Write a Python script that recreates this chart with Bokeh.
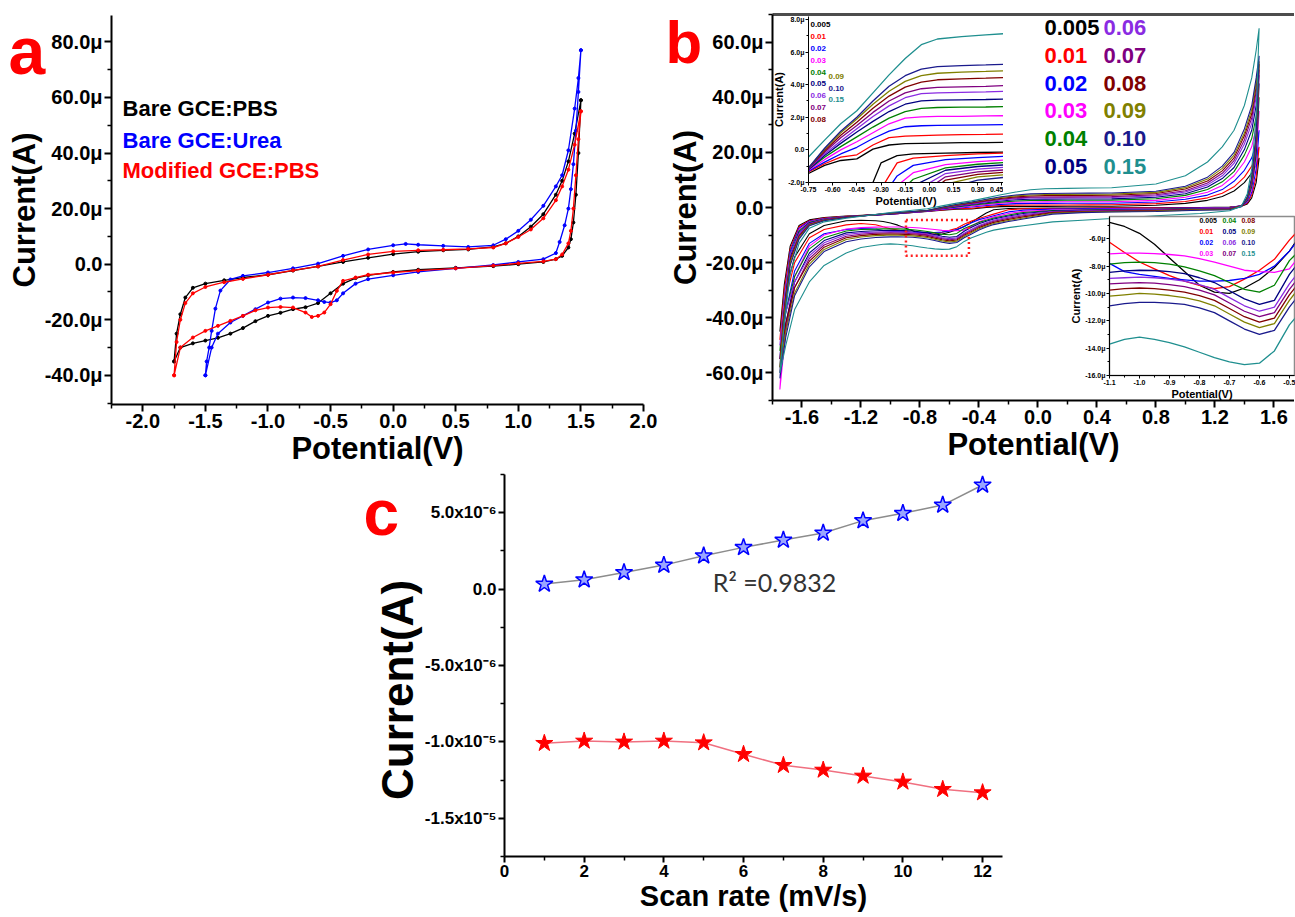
from bokeh.plotting import figure
from bokeh.models import GridBox, FixedTicker, Range1d, LinearAxis, Label, ColumnDataSource
from bokeh.embed import file_html
from bokeh.resources import INLINE
from bokeh.core.properties import value

FONT = "Liberation Sans"

# ---------------- panel a : CV of bare / modified GCE (current in uA) ----------------
a_names = ["Bare GCE:PBS", "Bare GCE:Urea", "Modified GCE:PBS"]
a_colors = ["#000000", "#0000ff", "#ff0000"]

a_pbs_fwd_x = [-1.75, -1.73, -1.70, -1.66, -1.60, -1.50, -1.35, -1.2, -1.0, -0.8, -0.6, -0.4, -0.2, 0.0,
               0.2, 0.4, 0.6, 0.8, 0.9, 1.0, 1.1, 1.2, 1.3, 1.35, 1.4, 1.45, 1.5]
a_pbs_fwd_y = [-35, -25, -18, -12, -8.5, -7, -5.8, -4.8, -3.8, -2.3, -0.8, 0.8, 2.3, 3.6,
               4.5, 5.0, 5.3, 6.2, 7.5, 10.0, 13.5, 18, 25, 30, 37, 47, 59]
a_pbs_rev_x = [1.5, 1.48, 1.46, 1.44, 1.42, 1.4, 1.35, 1.3, 1.2, 1.0, 0.8, 0.5, 0.2, 0.0, -0.2, -0.3,
               -0.4, -0.5, -0.6, -0.7, -0.8, -0.9, -1.0, -1.1, -1.2, -1.3, -1.4, -1.5, -1.6, -1.7, -1.75]
a_pbs_rev_y = [59, 40, 25, 15, 9, 6, 3, 1.8, 0.8, 0.0, -0.7, -1.3, -2.0, -2.8, -4.0, -5.0,
               -7.0, -10.5, -14.0, -15.5, -16.2, -17.5, -18.6, -20.5, -23.0, -25.0, -26.5, -27.5, -28.5, -30.0, -35.0]

a_urea_fwd_x = [-1.5, -1.49, -1.47, -1.45, -1.42, -1.38, -1.3, -1.2, -1.0, -0.8, -0.6, -0.4, -0.2, 0.0, 0.1,
                0.2, 0.4, 0.6, 0.8, 0.9, 1.0, 1.1, 1.2, 1.3, 1.35, 1.4, 1.45, 1.48, 1.5]
a_urea_fwd_y = [-40, -35, -30, -24, -16, -9.5, -5.5, -4.2, -3.0, -1.5, 0.2, 3.0, 5.3, 6.8, 7.3,
                7.0, 6.6, 6.2, 6.8, 9.0, 12.0, 16.0, 21, 28, 32, 41, 56, 67, 77]
a_urea_rev_x = [1.5, 1.48, 1.46, 1.44, 1.42, 1.4, 1.37, 1.33, 1.3, 1.2, 1.0, 0.8, 0.5, 0.2, 0.0, -0.2,
                -0.3, -0.4, -0.45, -0.5, -0.55, -0.6, -0.7, -0.8, -0.9, -1.0, -1.1, -1.2, -1.3, -1.4, -1.45, -1.5]
a_urea_rev_y = [77, 62, 48, 36, 27, 20, 14, 8, 4, 1.8, 0.8, -0.3, -1.5, -2.8, -4.0, -5.4,
                -7.0, -10.5, -13.0, -13.8, -13.6, -13.0, -12.2, -12.0, -12.4, -13.8, -16.2, -18.6, -21, -25, -30, -40]

a_mod_fwd_x = [-1.75, -1.73, -1.70, -1.66, -1.60, -1.50, -1.35, -1.2, -1.0, -0.8, -0.6, -0.4, -0.2, 0.0,
               0.2, 0.4, 0.6, 0.8, 0.9, 1.0, 1.1, 1.2, 1.3, 1.35, 1.4, 1.45, 1.5]
a_mod_fwd_y = [-40, -28, -20, -14, -10.5, -8.2, -6.5, -5.3, -3.8, -2.2, -0.8, 1.5, 3.5, 4.6,
               5.0, 5.2, 5.5, 6.0, 7.5, 9.8, 12.5, 16.5, 23, 28, 34, 43, 55]
a_mod_rev_x = [1.5, 1.48, 1.46, 1.44, 1.42, 1.4, 1.35, 1.3, 1.2, 1.0, 0.8, 0.5, 0.2, 0.0, -0.2, -0.3, -0.4,
               -0.45, -0.5, -0.55, -0.6, -0.65, -0.7, -0.8, -0.9, -1.0, -1.1, -1.2, -1.3, -1.4, -1.5, -1.6, -1.7, -1.75]
a_mod_rev_y = [55, 45, 32, 20, 12, 7.5, 3.5, 1.8, 1.0, 0.3, -0.5, -1.5, -2.3, -3.0, -3.8, -4.8, -6.0,
               -9.6, -14.4, -17.4, -18.6, -19.0, -17.4, -15.6, -15.4, -15.6, -16.6, -18.6, -20.4, -22.2, -24.0, -26.4, -30, -40]

a_xticks = [-2.0, -1.5, -1.0, -0.5, 0.0, 0.5, 1.0, 1.5, 2.0]
a_xtick_labels = ["-2.0", "-1.5", "-1.0", "-0.5", "0.0", "0.5", "1.0", "1.5", "2.0"]
a_yticks = [-40, -20, 0, 20, 40, 60, 80]
a_ytick_labels = ["-40.0\u03bc", "-20.0\u03bc", "0.0", "20.0\u03bc", "40.0\u03bc", "60.0\u03bc", "80.0\u03bc"]

# ---------------- panel b : CVs at different scan rates (current in uA) ----------------
rate_labels = ["0.005", "0.01", "0.02", "0.03", "0.04", "0.05", "0.06", "0.07", "0.08", "0.09", "0.10", "0.15"]
rate_colors = ["#000000", "#ff0000", "#0000ff", "#ff00ff", "#008000", "#000080",
               "#8a2be2", "#800080", "#800000", "#808000", "#1a1a8c", "#1f8f8f"]

b_fwd_x = [-1.75, -1.72, -1.68, -1.62, -1.55, -1.45, -1.3, -1.0, -0.75, -0.65, -0.55, -0.45, -0.35, -0.25, -0.15,
           -0.05, 0.05, 0.2, 0.35, 0.5, 0.8, 1.0, 1.15, 1.25, 1.33, 1.4, 1.45, 1.48, 1.5]
b_rev_x = [1.5, 1.48, 1.45, 1.42, 1.38, 1.3, 1.1, 0.8, 0.5, 0.3, 0.1, -0.1, -0.2, -0.3, -0.35, -0.4, -0.45,
           -0.5, -0.55, -0.6, -0.65, -0.7, -0.75, -0.8, -0.85, -0.9, -0.95, -1.0, -1.05, -1.1,
           -1.2, -1.3, -1.45, -1.55, -1.65, -1.71, -1.75]

f005 = [-45, -28, -14, -6.5, -4.5, -3.6, -3.1, -2.4, -1.45, -0.95, -0.65, -0.55, 0.05, 0.3, 0.38,
        0.4, 0.42, 0.44, 0.45, 0.47, 0.8, 1.5, 2.6, 4.0, 6.0, 9.0, 12.5, 15.5, 18]
f01 = [-48, -30, -15, -7, -4.8, -3.8, -3.2, -2.4, -1.35, -0.85, -0.45, -0.3, 0.3, 0.75, 0.85,
       0.88, 0.9, 0.93, 0.95, 0.98, 1.4, 2.2, 3.5, 5.2, 7.5, 11, 15, 18.5, 22]
f02 = [-55, -33, -16, -7.5, -5, -4, -3.3, -2.4, -1.3, -0.75, -0.25, 0.16, 0.7, 1.15, 1.42,
       1.48, 1.5, 1.52, 1.54, 1.56, 2.0, 3.0, 4.5, 6.5, 9.5, 13.5, 18, 23, 28]
f03 = [-66, -38, -18, -8, -5.2, -4.1, -3.3, -2.4, -1.25, -0.6, 0.0, 0.5, 1.05, 1.6, 1.95,
       2.02, 2.05, 2.06, 2.08, 2.1, 2.6, 3.7, 5.5, 8, 11.5, 16.5, 22, 29, 35]
f04 = [-52, -34, -17, -8.5, -5.4, -4.2, -3.3, -2.3, -1.2, -0.45, 0.2, 0.8, 1.4, 1.95, 2.35,
       2.55, 2.6, 2.62, 2.63, 2.66, 3.2, 4.4, 6.5, 9.3, 13, 19, 25, 33, 40]
f05 = [-58, -36, -18, -9, -5.6, -4.3, -3.4, -2.3, -1.2, -0.35, 0.4, 1.1, 1.75, 2.35, 2.8,
       3.0, 3.05, 3.07, 3.09, 3.12, 3.7, 5.0, 7.4, 10.5, 14.5, 21, 28, 37, 45]
f06 = [-50, -33, -17, -9.5, -5.8, -4.4, -3.4, -2.2, -1.15, -0.25, 0.55, 1.3, 2.05, 2.7, 3.2,
       3.45, 3.5, 3.53, 3.56, 3.6, 4.2, 5.6, 8.2, 11.5, 16, 23, 30.5, 40, 48]
f07 = [-60, -38, -19, -10, -6, -4.5, -3.5, -2.2, -1.15, -0.15, 0.75, 1.5, 2.3, 3.0, 3.5,
       3.75, 3.83, 3.87, 3.9, 3.95, 4.6, 6.1, 8.9, 12.4, 17, 24.5, 32.5, 42, 50]
f08 = [-55, -37, -19, -10.5, -6.2, -4.6, -3.5, -2.1, -1.1, -0.05, 0.9, 1.7, 2.55, 3.3, 3.85,
       4.15, 4.3, 4.36, 4.4, 4.45, 5.1, 6.7, 9.6, 13.3, 18, 26, 34, 44, 52]
f09 = [-58, -39, -20, -11, -6.4, -4.7, -3.6, -2.1, -1.1, 0.05, 1.05, 1.9, 2.8, 3.6, 4.2,
       4.55, 4.7, 4.77, 4.81, 4.86, 5.5, 7.2, 10.3, 14.2, 19, 27, 35.5, 45.5, 53]
f10 = [-62, -41, -21, -11.5, -6.6, -4.8, -3.6, -2.0, -1.1, 0.1, 1.15, 2.0, 3.0, 3.9, 4.55,
       4.95, 5.1, 5.17, 5.21, 5.26, 5.9, 7.7, 11, 15, 20, 28.5, 37, 47, 55]
f15 = [-60, -42, -24, -13, -7.5, -5.2, -3.9, -1.8, -0.44, 0.6, 1.6, 2.4, 3.5, 4.6, 5.6,
       6.45, 6.8, 6.95, 7.05, 7.15, 8.5, 11.5, 16.5, 22, 28, 37, 47, 57, 65]

r005 = [18, 9, 3.5, 1.3, 0.5, 0.2, 0.0, -0.08, -0.13, -0.16, -0.2, -0.25, -0.35, -0.8, -2.0, -3.6, -5.3,
        -6.9, -8.1, -9.0, -9.6, -10.0, -9.9, -9.4, -8.4, -7.4, -6.4, -5.6, -5.1, -4.8,
        -4.6, -4.8, -6.5, -9.5, -18, -30, -45]
r01 = [22, 11, 4.5, 1.6, 0.5, 0.1, -0.05, -0.12, -0.18, -0.25, -0.35, -0.5, -0.8, -2.4, -3.2, -4.0, -4.9,
       -6.1, -7.5, -8.3, -8.95, -9.5, -9.65, -9.4, -9.1, -8.7, -8.2, -7.7, -7.0, -6.25,
       -5.8, -6.3, -8, -11, -20, -33, -48]
r02 = [28, 14, 5.5, 2.0, 0.6, 0.0, -0.15, -0.25, -0.38, -0.48, -0.6, -0.95, -1.6, -3.0, -3.7, -4.4, -5.5,
       -6.9, -8.0, -8.6, -8.9, -9.05, -9.1, -9.1, -9.0, -8.9, -8.75, -8.6, -8.4, -7.8,
       -7.6, -8.0, -9.5, -13, -23, -38, -55]
r03 = [35, 17, 6.5, 2.3, 0.6, -0.1, -0.25, -0.4, -0.6, -0.72, -0.9, -1.4, -2.2, -3.4, -4.2, -5.2, -6.8,
       -8.2, -8.45, -8.4, -8.3, -8.0, -7.7, -7.45, -7.25, -7.15, -7.08, -7.05, -7.05, -7.1,
       -7.3, -7.8, -10, -14, -25, -45, -66]
r04 = [40, 19, 7.5, 2.6, 0.6, -0.2, -0.35, -0.55, -0.75, -0.88, -1.1, -1.8, -2.7, -3.8, -4.6, -5.4, -6.5,
       -7.6, -9.4, -9.9, -9.7, -9.2, -8.7, -8.35, -8.05, -7.85, -7.75, -7.7, -7.75, -7.85,
       -8.0, -8.5, -11, -15, -25, -38, -52]
r05 = [45, 21, 8.5, 2.9, 0.6, -0.3, -0.45, -0.7, -0.9, -1.02, -1.25, -2.2, -3.1, -4.2, -5.0, -5.9, -7.2,
       -8.6, -10.5, -10.8, -10.4, -9.8, -9.2, -8.85, -8.55, -8.4, -8.32, -8.3, -8.35, -8.45,
       -8.7, -9.2, -12, -16.5, -27, -42, -58]
r06 = [48, 23, 9, 3.1, 0.6, -0.4, -0.55, -0.85, -1.05, -1.18, -1.45, -2.6, -3.5, -4.6, -5.5, -6.5, -7.9,
       -9.3, -11.0, -11.3, -10.9, -10.3, -9.7, -9.35, -9.1, -8.95, -8.85, -8.8, -8.85, -8.9,
       -9.2, -9.8, -12.8, -17.5, -27, -38, -50]
r07 = [50, 24, 9.5, 3.3, 0.6, -0.5, -0.65, -1.0, -1.2, -1.35, -1.65, -3.0, -3.9, -5.0, -5.9, -6.9, -8.3,
       -9.7, -11.4, -11.7, -11.3, -10.7, -10.1, -9.75, -9.5, -9.35, -9.25, -9.2, -9.25, -9.3,
       -9.7, -10.4, -13.6, -18.5, -29, -44, -60]
r08 = [52, 25, 10, 3.5, 0.5, -0.6, -0.75, -1.15, -1.35, -1.5, -1.85, -3.4, -4.3, -5.4, -6.3, -7.3, -8.7,
       -10.1, -11.8, -12.1, -11.7, -11.1, -10.5, -10.15, -9.9, -9.75, -9.65, -9.6, -9.65, -9.75,
       -10.2, -11.0, -14.4, -19.5, -29, -42, -55]
r09 = [53, 26, 10.5, 3.7, 0.4, -0.7, -0.85, -1.3, -1.5, -1.65, -2.1, -3.8, -4.7, -5.8, -6.7, -7.7, -9.1,
       -10.5, -12.2, -12.5, -12.1, -11.5, -10.9, -10.55, -10.3, -10.15, -10.05, -10.0, -10.1, -10.2,
       -10.7, -11.6, -15.2, -20.5, -31, -45, -58]
r10 = [55, 27, 11, 3.9, 0.3, -0.8, -1.0, -1.45, -1.65, -1.85, -2.4, -4.2, -5.1, -6.2, -7.1, -8.2, -9.6,
       -11.0, -12.7, -13.0, -12.6, -12.0, -11.4, -11.05, -10.8, -10.7, -10.65, -10.65, -10.75, -10.9,
       -11.4, -12.4, -16, -21.5, -32, -47, -62]
r15 = [65, 33, 14, 5.0, 0.5, -1.2, -2.2, -3.0, -4.0, -4.6, -5.2, -6.6, -7.3, -8.2, -9.0, -10.0, -11.0,
       -12.3, -14.2, -15.1, -15.2, -15.0, -14.7, -14.3, -13.9, -13.6, -13.35, -13.2, -13.35, -13.7,
       -14.5, -16.5, -21, -27, -37, -50, -60]

b_xticks = [-1.6, -1.2, -0.8, -0.4, 0.0, 0.4, 0.8, 1.2, 1.6]
b_xtick_labels = ["-1.6", "-1.2", "-0.8", "-0.4", "0.0", "0.4", "0.8", "1.2", "1.6"]
b_yticks = [-60, -40, -20, 0, 20, 40, 60]
b_ytick_labels = ["-60.0\u03bc", "-40.0\u03bc", "-20.0\u03bc", "0.0", "20.0\u03bc", "40.0\u03bc", "60.0\u03bc"]
zoom_box = dict(left=-0.895, right=-0.468, top=-4.5, bottom=-17.5)

i1_xticks = [-0.75, -0.60, -0.45, -0.30, -0.15, 0.0, 0.15, 0.30, 0.45]
i1_xtick_labels = ["-0.75", "-0.60", "-0.45", "-0.30", "-0.15", "0.00", "0.15", "0.30", "0.45"]
i1_yticks = [-2, 0, 2, 4, 6, 8]
i1_ytick_labels = ["-2.0\u03bc", "0.0", "2.0\u03bc", "4.0\u03bc", "6.0\u03bc", "8.0\u03bc"]
i2_xticks = [-1.1, -1.0, -0.9, -0.8, -0.7, -0.6, -0.5]
i2_xtick_labels = ["-1.1", "-1.0", "-0.9", "-0.8", "-0.7", "-0.6", "-0.5"]
i2_yticks = [-16, -14, -12, -10, -8, -6]
i2_ytick_labels = ["-16.0\u03bc", "-14.0\u03bc", "-12.0\u03bc", "-10.0\u03bc", "-8.0\u03bc", "-6.0\u03bc"]

# ---------------- panel c : peak current vs scan rate (A) ----------------
c_scan = [1, 2, 3, 4, 5, 6, 7, 8, 9, 10, 11, 12]
c_anodic = [3.3e-7, 6.1e-7, 1.09e-6, 1.57e-6, 2.18e-6, 2.73e-6, 3.21e-6, 3.67e-6, 4.48e-6, 4.96e-6, 5.50e-6, 6.81e-6]
c_cathodic = [-1.009e-5, -9.94e-6, -1.000e-5, -9.94e-6, -1.005e-5, -1.081e-5, -1.153e-5, -1.184e-5,
              -1.223e-5, -1.262e-5, -1.310e-5, -1.332e-5]
c_xticks = [0, 2, 4, 6, 8, 10, 12]
c_xtick_labels = ["0", "2", "4", "6", "8", "10", "12"]
c_yticks = [-1.5e-5, -1.0e-5, -5.0e-6, 0.0, 5.0e-6]
c_ytick_labels = ["-1.5x10\u207b\u2075", "-1.0x10\u207b\u2075", "-5.0x10\u207b\u2076", "0.0", "5.0x10\u207b\u2076"]
c_r2 = "R\u00b2 =0.9832"

panel_letters = ["a", "b", "c"]

# All figures share one grid cell; Bokeh aligns their borders, so every figure uses the same
# left/top border and is placed with its CSS margin.
LB = 150
TB = 30


def style_axis(ax, tsize, lsize, lw=2, tick_out=7, minor_out=4, standoff=2):
    ax.axis_line_width = lw
    ax.axis_line_color = "black"
    ax.major_tick_line_width = lw
    ax.major_tick_line_color = "black"
    ax.minor_tick_line_width = max(1, lw * 0.75)
    ax.minor_tick_line_color = "black"
    ax.major_tick_out = tick_out
    ax.major_tick_in = 0
    ax.minor_tick_out = minor_out
    ax.minor_tick_in = 0
    ax.major_label_text_font = FONT
    ax.major_label_text_font_style = "bold"
    ax.major_label_text_font_size = tsize
    ax.major_label_text_color = "black"
    ax.major_label_standoff = standoff
    ax.axis_label_text_font = FONT
    ax.axis_label_text_font_style = "bold"
    ax.axis_label_text_font_size = lsize
    ax.axis_label_text_color = "black"
    ax.axis_label_standoff = 0


def set_ticks(ax, ticks, labels, minor):
    ax.ticker = FixedTicker(ticks=ticks, minor_ticks=minor)
    ax.major_label_overrides = {float(t): l for t, l in zip(ticks, labels)}


def base_fig(frame_left, frame_top, **kw):
    p = figure(output_backend="svg", toolbar_location=None,
               border_fill_color=None, background_fill_color="white",
               min_border_left=LB, min_border_top=TB,
               margin=(frame_top - TB, 0, 0, frame_left - LB), **kw)
    p.xgrid.visible = False
    p.ygrid.visible = False
    return p


def letter_fig(ch, left, baseline, size_px):
    # small transparent overlay whose frame holds one red panel letter
    W, H = 90, 110
    frame_left = left - 5
    frame_top = baseline - (H - 15)
    f = figure(output_backend="svg", toolbar_location=None, frame_width=W, frame_height=H,
               x_range=Range1d(0, W), y_range=Range1d(0, H), x_axis_location=None, y_axis_location=None,
               border_fill_color=None, background_fill_color=None, outline_line_color=None,
               min_border_left=LB, min_border_right=0, min_border_top=TB, min_border_bottom=0,
               margin=(frame_top - TB, 0, 0, frame_left - LB))
    f.xgrid.visible = False
    f.ygrid.visible = False
    # text box centre placed so that the alphabetic baseline lands 15 px above the frame bottom
    f.text(x=[5], y=[15 + 0.3465 * size_px], text=[ch], text_color="red", text_font=value(FONT),
           text_font_size=f"{size_px}px", text_font_style="bold", text_baseline="middle")
    return f


# ================= panel a =================
pa = base_fig(111, 15, frame_width=532, frame_height=389, x_range=Range1d(-2.25, 2.0),
              y_range=Range1d(-50.5, 89.5), min_border_right=17, min_border_bottom=70, outline_line_color=None)
style_axis(pa.xaxis[0], "20px", "31px")
style_axis(pa.yaxis[0], "20px", "31px")
set_ticks(pa.xaxis[0], a_xticks, a_xtick_labels, [-2.25, -1.75, -1.25, -0.75, -0.25, 0.25, 0.75, 1.25, 1.75])
set_ticks(pa.yaxis[0], a_yticks, a_ytick_labels, [-50, -30, -10, 10, 30, 50, 70])
pa.xaxis.axis_label = "Potential(V)"
pa.yaxis.axis_label = "Current(A)"

a_series = [(a_pbs_fwd_x + a_pbs_rev_x, a_pbs_fwd_y + a_pbs_rev_y),
            (a_urea_fwd_x + a_urea_rev_x, a_urea_fwd_y + a_urea_rev_y),
            (a_mod_fwd_x + a_mod_rev_x, a_mod_fwd_y + a_mod_rev_y)]
for (xs, ys), col in zip(a_series, a_colors):
    src = ColumnDataSource(dict(x=xs, y=ys))
    pa.line("x", "y", source=src, line_color=col, line_width=1.3)
    pa.scatter("x", "y", source=src, size=3, color=col)

a_leg = ColumnDataSource(dict(x=[-2.162] * 3, y=[56.0, 44.5, 33.7], text=a_names, color=a_colors))
pa.text(x="x", y="y", text="text", text_color="color", source=a_leg, text_font=value(FONT),
        text_font_size="22px", text_font_style="bold", text_baseline="middle")

# ================= panel b =================
pb = base_fig(772, 14, frame_width=522, frame_height=386, x_range=Range1d(-1.8, 1.74), y_range=Range1d(-70, 70),
              min_border_right=0, min_border_bottom=70, outline_line_color=None)
style_axis(pb.xaxis[0], "20px", "31px")
style_axis(pb.yaxis[0], "20px", "31px")
set_ticks(pb.xaxis[0], b_xticks, b_xtick_labels, [-1.8, -1.4, -1.0, -0.6, -0.2, 0.2, 0.6, 1.0, 1.4])
set_ticks(pb.yaxis[0], b_yticks, b_ytick_labels, [-70, -50, -30, -10, 10, 30, 50, 70])
pb.xaxis.axis_label = "Potential(V)"
pb.yaxis.axis_label = "Current(A)"
top_ax = LinearAxis(ticker=FixedTicker(ticks=[]), axis_line_width=3, axis_line_color="#4d4d4d",
                    major_tick_line_color=None, minor_tick_line_color=None,
                    major_label_text_font_size="0px", major_label_standoff=0)
pb.add_layout(top_ax, "above")

fwd_series = [f005, f01, f02, f03, f04, f05, f06, f07, f08, f09, f10, f15]
rev_series = [r005, r01, r02, r03, r04, r05, r06, r07, r08, r09, r10, r15]

# inset 1 (top-left)
pi1 = base_fig(808, 16, frame_width=195, frame_height=166, x_range=Range1d(-0.75, 0.46),
               y_range=Range1d(-2.0, 8.18), min_border_right=0, min_border_bottom=28, outline_line_color=None)
style_axis(pi1.xaxis[0], "7px", "11px", lw=1, tick_out=3, minor_out=2, standoff=1)
style_axis(pi1.yaxis[0], "7px", "11px", lw=1, tick_out=3, minor_out=2, standoff=1)
set_ticks(pi1.xaxis[0], i1_xticks, i1_xtick_labels, [])
set_ticks(pi1.yaxis[0], i1_yticks, i1_ytick_labels, [-1, 1, 3, 5, 7])
pi1.xaxis.axis_label = "Potential(V)"
pi1.yaxis.axis_label = "Current(A)"

# inset 2 (bottom-right)
pi2 = base_fig(1109, 216, frame_width=185, frame_height=159, x_range=Range1d(-1.1, -0.483),
               y_range=Range1d(-16.0, -4.37), min_border_right=1, min_border_bottom=26,
               outline_line_color="#8c8c8c", outline_line_width=1.5)
style_axis(pi2.xaxis[0], "7px", "11px", lw=1, tick_out=3, minor_out=2, standoff=1)
style_axis(pi2.yaxis[0], "7px", "11px", lw=1, tick_out=3, minor_out=2, standoff=1)
set_ticks(pi2.xaxis[0], i2_xticks, i2_xtick_labels, [-1.05, -0.95, -0.85, -0.75, -0.65, -0.55])
set_ticks(pi2.yaxis[0], i2_yticks, i2_ytick_labels, [-15, -13, -11, -9, -7, -5])
pi2.xaxis.axis_label = "Potential(V)"
pi2.yaxis.axis_label = "Current(A)"

for k in range(len(rate_labels)):
    src = ColumnDataSource(dict(x=b_fwd_x + b_rev_x, y=fwd_series[k] + rev_series[k]))
    pb.line("x", "y", source=src, line_color=rate_colors[k], line_width=1.1)
    pi1.line("x", "y", source=src, line_color=rate_colors[k], line_width=1.3)
    pi2.line("x", "y", source=src, line_color=rate_colors[k], line_width=1.3)

pb.quad(left=[zoom_box["left"]], right=[zoom_box["right"]], top=[zoom_box["top"]], bottom=[zoom_box["bottom"]],
        fill_color=None, line_color="#ff2020", line_width=2.5, line_dash="2 3")

# big legend in b
bx = [0.044 if i < 6 else 0.444 for i in range(12)]
by = [65.28 - (i % 6) * 10.08 for i in range(12)]
pb.text(x="x", y="y", text="text", text_color="color",
        source=ColumnDataSource(dict(x=bx, y=by, text=rate_labels, color=rate_colors)),
        text_font=value(FONT), text_font_size="22px", text_font_style="bold", text_baseline="middle")

# inset 1 legend: 9 rows in first column, 3 in second
i1x = [-0.738 if i < 9 else -0.626 for i in range(12)]
i1y = [7.69 - i * 0.729 if i < 9 else 4.5 - (i - 9) * 0.705 for i in range(12)]
pi1.text(x="x", y="y", text="text", text_color="color",
         source=ColumnDataSource(dict(x=i1x, y=i1y, text=rate_labels, color=rate_colors)),
         text_font=value(FONT), text_font_size="8px", text_font_style="bold", text_baseline="middle")

# inset 2 legend: 3 columns x 4 rows
i2x = [[-0.8, -0.723, -0.66][i // 4] for i in range(12)]
i2y = [-4.66 - (i % 4) * 0.813 for i in range(12)]
pi2.text(x="x", y="y", text="text", text_color="color",
         source=ColumnDataSource(dict(x=i2x, y=i2y, text=rate_labels, color=rate_colors)),
         text_font=value(FONT), text_font_size="7px", text_font_style="bold", text_baseline="middle")

# ================= panel c =================
pc = base_fig(504, 474, frame_width=498, frame_height=382, x_range=Range1d(0, 12.5),
              y_range=Range1d(-1.75e-5, 7.5e-6), min_border_right=10, min_border_bottom=58,
              outline_line_color=None)
style_axis(pc.xaxis[0], "17px", "29px", tick_out=6)
style_axis(pc.yaxis[0], "17px", "44px", tick_out=6)
set_ticks(pc.xaxis[0], c_xticks, c_xtick_labels, [1, 3, 5, 7, 9, 11])
set_ticks(pc.yaxis[0], c_yticks, c_ytick_labels, [-1.75e-5, -1.25e-5, -7.5e-6, -2.5e-6, 2.5e-6, 7.5e-6])
pc.xaxis.axis_label = "Scan rate (mV/s)"
pc.yaxis.axis_label = "Current(A)\u00a0\u00a0\u00a0\u00a0"

pc.line(c_scan, c_anodic, line_color="#8c8c8c", line_width=1.5)
pc.scatter(c_scan, c_anodic, marker="star", size=18, line_color="#0000ff", fill_color="#9aa6ff", line_width=1.5)
pc.line(c_scan, c_cathodic, line_color="#f07080", line_width=1.5)
pc.scatter(c_scan, c_cathodic, marker="star", size=18, line_color="#ff0000", fill_color="#ff0000")
pc.add_layout(Label(x=5.23, y=4.6e-7, text=c_r2, text_color="#333333", text_font="Lato", text_font_size="25px",
                    text_baseline="middle"))

# panel letters
la = letter_fig(panel_letters[0], 8, 73, 66)
lb = letter_fig(panel_letters[1], 665, 63, 60)
lc = letter_fig(panel_letters[2], 363, 535, 64)

grid = GridBox(children=[(pa, 0, 0), (pb, 0, 0), (pc, 0, 0), (pi1, 0, 0), (pi2, 0, 0),
                         (la, 0, 0), (lb, 0, 0), (lc, 0, 0)])

open("out.html", "w").write(file_html(grid, INLINE))
